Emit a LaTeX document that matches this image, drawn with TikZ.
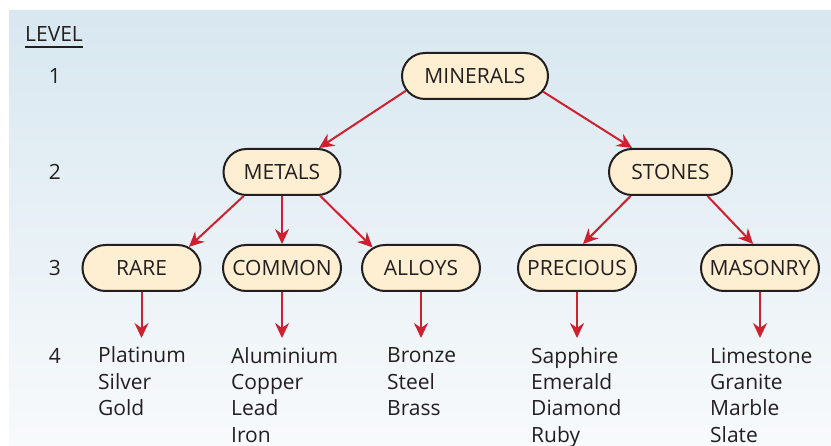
\documentclass[tikz,border=0pt]{standalone}
\usepackage{fontspec}
\setmainfont{Open Sans}
\usetikzlibrary{arrows.meta,shapes.misc}
\definecolor{inkdark}{HTML}{231F20}
\definecolor{nodefill}{HTML}{FEEFD3}
\definecolor{arrowred}{HTML}{CE202F}
\definecolor{bgtop}{HTML}{D8E7F0}
\definecolor{bgbottom}{HTML}{F8FAFC}
\begin{document}
\begin{tikzpicture}[x=1pt,y=-1pt,
  font=\fontsize{21}{26.5}\selectfont, text=inkdark,
  pill/.style={rounded rectangle, draw=inkdark, fill=nodefill, line width=2pt,
    minimum height=46pt, minimum width=118pt, inner sep=0pt},
  link/.style={draw=arrowred, line width=2pt,
    -{Stealth[length=15pt,width=14pt,inset=5pt]}},
  levelnum/.style={inner sep=0pt},
  % the base of a multi-line list is the baseline of its last line
  leaflist/.style={anchor=base west, align=left, inner sep=0pt}]
\useasboundingbox (0,0) rectangle (831,446);
% shaded panel
\shade[top color=bgtop, bottom color=bgbottom] (9,11) rectangle (831,446);

% level column
\node[anchor=base west, inner sep=0pt] (level) at (25,42) {LEVEL};
\draw[inkdark, line width=2pt] ([yshift=-5pt]level.base west) -- ([yshift=-5pt]level.base east);
\node[levelnum] (l1) at (55,76) {1};
\node[levelnum] (l2) at (55,172) {2};
\node[levelnum] (l3) at (55,268) {3};
\node[levelnum] (l4) at (55,356) {4};

% hierarchy nodes
\node[pill, minimum width=146pt] (minerals) at (475,76) {MINERALS};
\node[pill, minimum width=117pt] (metals) at (282,172) {METALS};
\node[pill, minimum width=123pt] (stones) at (670.5,172) {STONES};
\node[pill] (rare) at (141.5,268) {RARE};
\node[pill] (common) at (282,268) {COMMON};
\node[pill] (alloys) at (421,268) {ALLOYS};
\node[pill] (precious) at (577,268) {PRECIOUS};
\node[pill] (masonry) at (760,268) {MASONRY};

% member lists (first baseline at 363, lines 26.5pt apart)
\node[leaflist] (rarelist) at (98,416) {Platinum\\Silver\\Gold};
\node[leaflist] (commonlist) at (231,442.5) {Aluminium\\Copper\\Lead\\Iron};
\node[leaflist] (alloylist) at (387,416) {Bronze\\Steel\\Brass};
\node[leaflist] (preciouslist) at (531,442.5) {Sapphire\\Emerald\\Diamond\\Ruby};
\node[leaflist] (masonrylist) at (710,442.5) {Limestone\\Granite\\Marble\\Slate};

\coordinate (raretip) at (141.5,338);
\coordinate (commontip) at (282,338);
\coordinate (alloytip) at (421,338);
\coordinate (precioustip) at (577,338);
\coordinate (masonrytip) at (760,338);

% connectors
\draw[link] (minerals.192) -- (metals.33);
\draw[link] (minerals.347) -- (stones.148);
\draw[link] (metals.212) -- (rare.24);
\draw[link] (metals.south) -- (common.north);
\draw[link] (metals.328) -- (alloys.157);
\draw[link] (stones.211) -- (precious.76);
\draw[link] (stones.327) -- (masonry.106);
\draw[link] (rare.south) -- (raretip);
\draw[link] (common.south) -- (commontip);
\draw[link] (alloys.south) -- (alloytip);
\draw[link] (precious.south) -- (precioustip);
\draw[link] (masonry.south) -- (masonrytip);
\end{tikzpicture}
\end{document}
